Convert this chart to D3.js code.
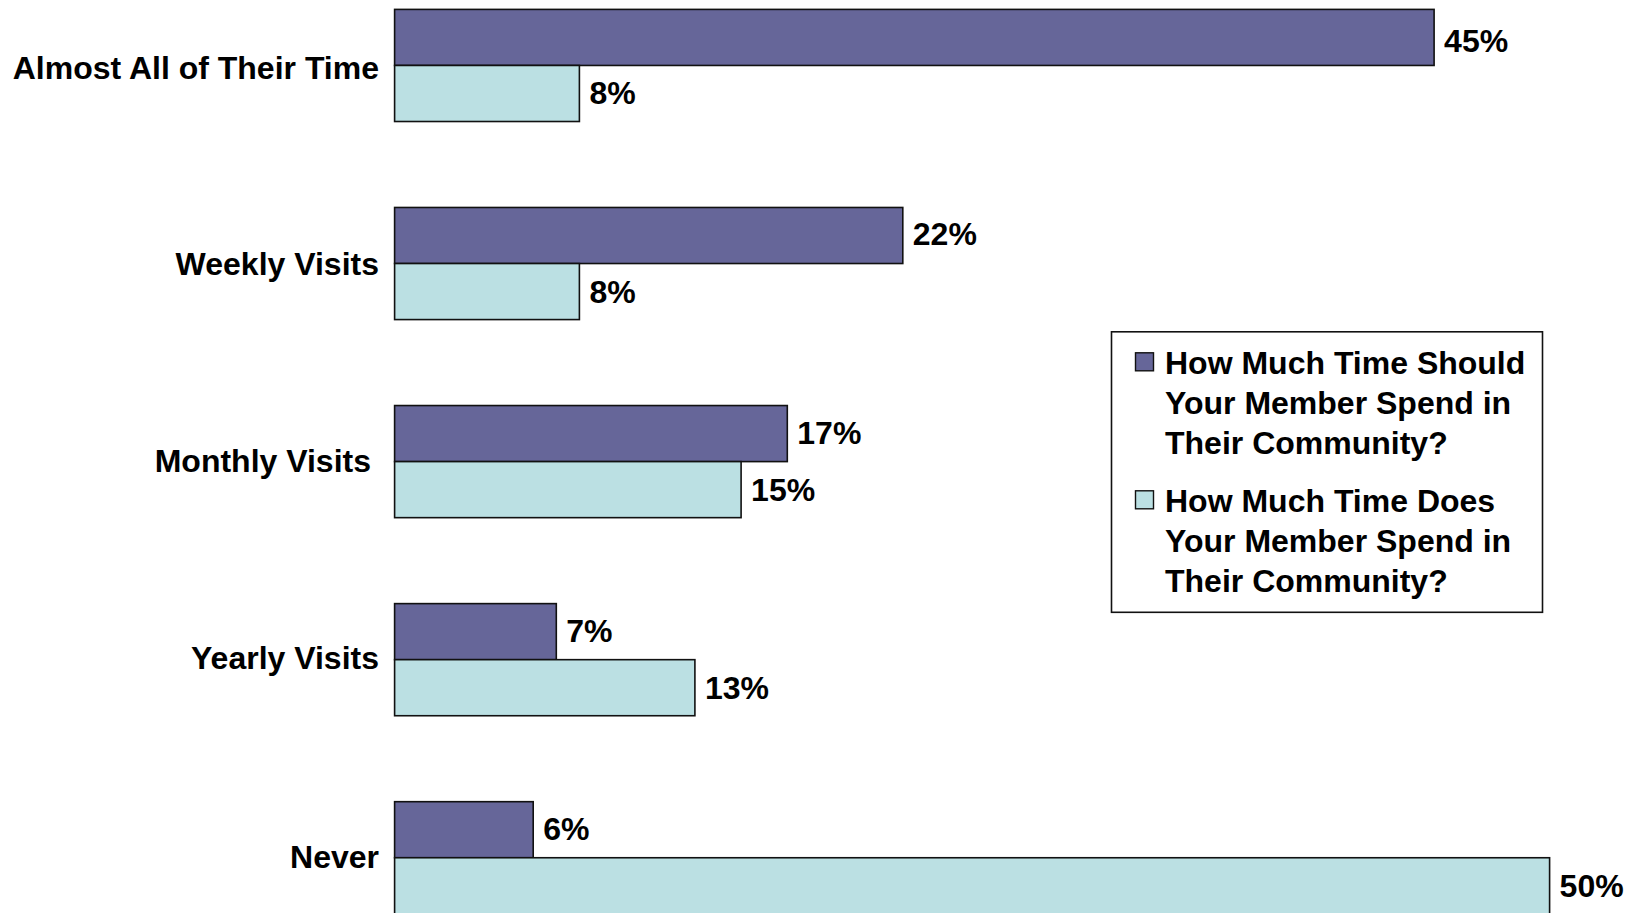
<!DOCTYPE html>
<html>
<head>
<meta charset="utf-8">
<script src="https://cdn.jsdelivr.net/npm/d3@7"></script>
<style>
  body { margin: 0; background: #fff; }
  svg { display: block; font-family: "Liberation Sans", Arial, sans-serif; font-weight: bold; }
</style>
</head>
<body>
<svg id="my-svg" width="1641" height="913"></svg>
<script>
const categories = ['Almost All of Their Time', 'Weekly Visits', 'Monthly Visits', 'Yearly Visits', 'Never'];
const seriesNames = ['How Much Time Should Your Member Spend in Their Community?',
                     'How Much Time Does Your Member Spend in Their Community?'];
const shouldValues = [45, 22, 17, 7, 6];
const doesValues = [8, 8, 15, 13, 50];
const legendLines = [
    ['How Much Time Should', 'Your Member Spend in', 'Their Community?'],
    ['How Much Time Does', 'Your Member Spend in', 'Their Community?']
];
const colors = ['#666699', '#bbe0e3'];

const svg = d3.select('svg');

const renderChart = () => {
    const rows = categories.map((c, i) => ({cat: c, idx: i, vals: [shouldValues[i], doesValues[i]]}));

    const xScale = d3.scaleLinear()
                     .domain([0, 50])
                     .range([394.6, 1549.6]);

    const yScale = d3.scaleBand()
                     .domain(categories)
                     .range([9.4, 913.8])
                     .paddingInner(0.434)
                     .paddingOuter(0);

    const subScale = d3.scaleBand()
                       .domain([0, 1])
                       .range([0, yScale.bandwidth()]);

    const groups = svg.selectAll('g.cat').data(rows)
                      .enter()
                      .append('g')
                      .attr('class', 'cat')
                      .attr('transform', d => `translate(0, ${yScale(d.cat)})`);

    groups.selectAll('rect').data(d => d.vals)
          .enter()
          .append('rect')
          .attr('x', xScale(0))
          .attr('y', (d, i) => subScale(i))
          .attr('width', d => xScale(d) - xScale(0))
          .attr('height', subScale.bandwidth())
          .attr('fill', (d, i) => colors[i])
          .attr('stroke', '#111')
          .attr('stroke-width', 1.6);

    // value labels; the very top one sits a little lower, as in the original
    groups.each(function(row) {
        d3.select(this).selectAll('text.val').data(row.vals)
          .enter()
          .append('text')
          .attr('class', 'val')
          .attr('x', d => xScale(d) + 10)
          .attr('y', (d, i) => subScale(i) + subScale.bandwidth() / 2 + 11 + (row.idx === 0 && i === 0 ? 5 : 0) - (i === 0 ? 1 : 0))
          .attr('font-size', 32)
          .attr('fill', '#000')
          .text(d => `${d}%`);
    });

    // category labels, right aligned against the bars
    const labelShift = [3, 0, -1, -2, -1];
    groups.append('text')
          .attr('x', d => d.idx === 2 ? 371 : 379)
          .attr('y', d => yScale.bandwidth() / 2 + 11 + labelShift[d.idx])
          .attr('text-anchor', 'end')
          .attr('font-size', 32)
          .attr('fill', '#000')
          .text(d => d.cat);

    // legend
    const legend = svg.append('g').attr('transform', 'translate(1111.5, 331.8)');
    legend.append('rect')
          .attr('width', 431)
          .attr('height', 280.5)
          .attr('fill', '#fff')
          .attr('stroke', '#111')
          .attr('stroke-width', 1.6);

    const items = legend.selectAll('g.item').data(seriesNames)
                        .enter()
                        .append('g')
                        .attr('class', 'item')
                        .attr('transform', (d, i) => `translate(0, ${i * 138})`);

    items.append('rect')
         .attr('x', 24)
         .attr('y', 21)
         .attr('width', 18)
         .attr('height', 18)
         .attr('fill', (d, i) => colors[i])
         .attr('stroke', '#111')
         .attr('stroke-width', 1.4);

    items.append('text')
         .attr('font-size', 32)
         .attr('fill', '#000')
         .selectAll('tspan')
         .data((d, i) => legendLines[i])
         .enter()
         .append('tspan')
         .attr('x', 53.5)
         .attr('y', (d, j) => 42 + j * 40.3)
         .text(d => d);
};

renderChart();
</script>
</body>
</html>
